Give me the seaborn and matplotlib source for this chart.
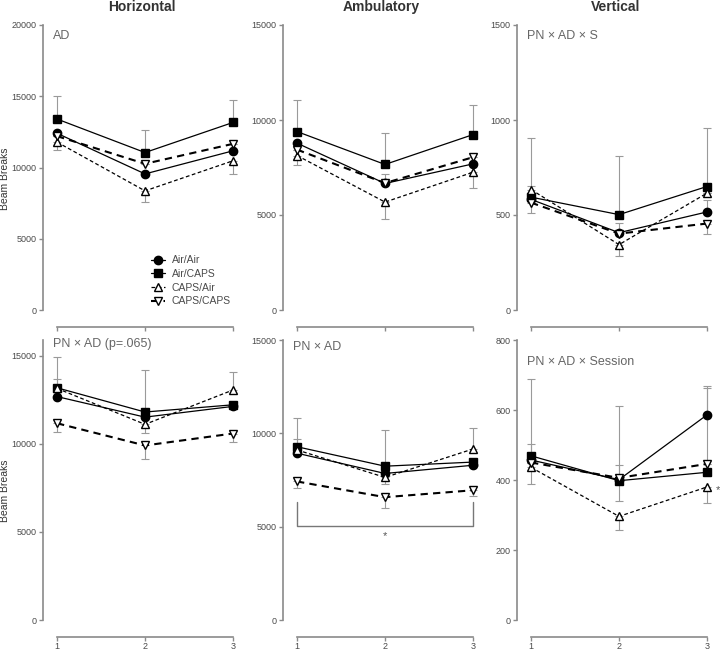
import numpy as np
import pandas as pd
import matplotlib
matplotlib.use("Agg")
import matplotlib.pyplot as plt
import seaborn as sns

# ---------------------------------------------------------------
# Data: rows = groups, columns = session 1..3
# ---------------------------------------------------------------
sessions = [1, 2, 3]
groups = ["Air/Air", "Air/CAPS", "CAPS/Air", "CAPS/CAPS"]

horiz_top = np.array([[12400, 9550, 11170],
                      [13400, 11050, 13160],
                      [11780, 8360, 10470],
                      [12200, 10260, 11660]])
horiz_top_up = np.array([[0, 0, 0], [1600, 1550, 1600], [0, 0, 0], [0, 0, 0]])
horiz_top_dn = np.array([[0, 0, 0], [0, 0, 0], [550, 800, 940], [0, 0, 0]])

ambul_top = np.array([[8780, 6660, 7690],
                      [9390, 7660, 9230],
                      [8130, 5680, 7250],
                      [8440, 6680, 8040]])
ambul_top_up = np.array([[0, 520, 0], [1680, 1660, 1560], [0, 0, 0], [0, 0, 0]])
ambul_top_dn = np.array([[0, 0, 0], [0, 0, 0], [490, 870, 820], [0, 0, 0]])

vert_top = np.array([[582, 407, 516],
                     [594, 502, 650],
                     [634, 344, 615],
                     [565, 402, 455]])
vert_top_up = np.array([[0, 50, 61], [313, 306, 310], [21, 0, 0], [0, 0, 0]])
vert_top_dn = np.array([[0, 0, 0], [0, 0, 0], [0, 61, 0], [56, 0, 56]])

horiz_bot = np.array([[12685, 11520, 12130],
                      [13185, 11810, 12220],
                      [13150, 11110, 13060],
                      [11170, 9910, 10590]])
horiz_bot_up = np.array([[0, 0, 0], [1755, 2390, 0], [520, 0, 1040], [0, 0, 0]])
horiz_bot_dn = np.array([[0, 0, 0], [0, 0, 0], [0, 500, 0], [480, 740, 460]])

ambul_bot = np.array([[8935, 7850, 8290],
                      [9280, 8240, 8460],
                      [9110, 7640, 9160],
                      [7420, 6580, 6950]])
ambul_bot_up = np.array([[0, 0, 0], [1540, 1920, 0], [610, 0, 1140], [0, 0, 0]])
ambul_bot_dn = np.array([[0, 0, 0], [0, 0, 0], [0, 360, 0], [350, 560, 320]])

vert_bot = np.array([[457, 401, 586],
                     [469, 398, 422],
                     [436, 296, 380],
                     [450, 406, 446]])
vert_bot_up = np.array([[46, 43, 84], [221, 214, 240], [0, 0, 0], [0, 0, 0]])
vert_bot_dn = np.array([[0, 0, 0], [0, 58, 0], [48, 40, 46], [0, 0, 0]])

col_titles = ["Horizontal", "Ambulatory", "Vertical"]
effect_labels = ["AD", "", "PN \u00d7 AD \u00d7 S",
                 "PN \u00d7 AD (p=.065)", "PN \u00d7 AD", "PN \u00d7 AD \u00d7 Session"]
y_tops = [20000, 15000, 1500, 15900, 15000, 800]
y_ticks = [[0, 5000, 10000, 15000, 20000], [0, 5000, 10000, 15000], [0, 500, 1000, 1500],
           [0, 5000, 10000, 15000], [0, 5000, 10000, 15000], [0, 200, 400, 600, 800]]

# significance bracket in Ambulatory bottom panel
bracket_y, bracket_tip = 5050, 6300

# ---------------------------------------------------------------
# Styles
# ---------------------------------------------------------------
STYLE = {
    "Air/Air":   dict(marker="o", mfc="black", lw=0.9, dashes=None),
    "Air/CAPS":  dict(marker="s", mfc="black", lw=0.9, dashes=None),
    "CAPS/Air":  dict(marker="^", mfc="white", lw=0.9, dashes=(3, 2)),
    "CAPS/CAPS": dict(marker="v", mfc="white", lw=1.5, dashes=(3.5, 2.5)),
}
GREY = "#8a8a8a"
TXT = "#4a4a4a"

sns.set_theme(style="ticks")
plt.rcParams["font.family"] = ["Liberation Sans", "DejaVu Sans"]

fig = plt.figure(figsize=(7.2, 6.55), dpi=100)

W, H = 720, 655
lefts = [43, 283, 517]
row_px = [(25, 310), (340, 620)]
panels = [(horiz_top, horiz_top_up, horiz_top_dn),
          (ambul_top, ambul_top_up, ambul_top_dn),
          (vert_top, vert_top_up, vert_top_dn),
          (horiz_bot, horiz_bot_up, horiz_bot_dn),
          (ambul_bot, ambul_bot_up, ambul_bot_dn),
          (vert_bot, vert_bot_up, vert_bot_dn)]

for i, (means, up, dn) in enumerate(panels):
    r, c = divmod(i, 3)
    top_px, bot_px = row_px[r]
    ax = fig.add_axes([lefts[c] / W, 1 - bot_px / H, 197 / W, (bot_px - top_px) / H])

    # error bars (one-sided, grey)
    for g in range(4):
        ax.errorbar(sessions, means[g], yerr=[dn[g], up[g]], fmt="none",
                    ecolor="#9a9a9a", elinewidth=0.8, capsize=3, capthick=0.8, zorder=1)

    for g, name in enumerate(groups):
        df = pd.DataFrame({"session": sessions, "value": means[g]})
        st = STYLE[name]
        kw = dict(color="black", marker=st["marker"], markerfacecolor=st["mfc"],
                  markeredgecolor="black", markersize=6, markeredgewidth=1.0,
                  linewidth=st["lw"], zorder=3)
        if st["dashes"] is not None:
            kw["dashes"] = st["dashes"]
        sns.lineplot(data=df, x="session", y="value", ax=ax, label=name if i == 0 else None,
                     errorbar=None, legend=False, **kw)

    ax.set_xlim(0.84, 3.08)
    ax.set_ylim(0, y_tops[i])
    ax.set_yticks(y_ticks[i])
    ax.set_xticks(sessions)
    ax.set_xlabel("")
    if c == 0:
        ax.set_ylabel("Beam Breaks", fontsize=7.5, color="#333333")
        ax.yaxis.set_label_coords(-0.165, 0.46)
    else:
        ax.set_ylabel("")
    if r == 0:
        ax.set_xticklabels([])
        ax.set_title(col_titles[c], fontsize=10, fontweight="bold", color="#333333", pad=10)
    sns.despine(ax=ax)
    ax.spines["bottom"].set_position(("outward", 12))
    ax.spines["bottom"].set_bounds(1, 3)
    for sp in ("left", "bottom"):
        ax.spines[sp].set_color(GREY)
        ax.spines[sp].set_linewidth(1.2)
    ax.tick_params(colors=GREY, labelcolor=TXT, labelsize=6.5, length=3, width=1)
    ax.tick_params(axis="x", length=3, pad=1)
    ax.tick_params(axis="y", pad=1.5)
    ax.patch.set_alpha(0)

    if effect_labels[i]:
        ypos = [0.96, 0.96, 0.96, 0.985, 0.975, 0.92][i]
        ax.text(0.05, ypos, effect_labels[i], transform=ax.transAxes, fontsize=9,
                color="#666666", va="center", ha="left")

    if i == 0:
        ax.legend(loc="lower right", bbox_to_anchor=(1.0, -0.02), frameon=False,
                  fontsize=7.5, handlelength=1.4, handletextpad=0.6, labelspacing=0.35,
                  labelcolor=TXT)
    if i == 4:
        ax.plot([1, 1, 3, 3], [bracket_tip, bracket_y, bracket_y, bracket_tip],
                color="#777777", lw=1.0, zorder=2)
        ax.text(2, bracket_y - 550, "*", ha="center", va="center", fontsize=8, color="#555555")
    if i == 5:
        ax.text(3.1, means[2][2] - 10, "*", ha="left", va="center", fontsize=8,
                color="#555555", clip_on=False)

fig.savefig("out.png", dpi=100)
